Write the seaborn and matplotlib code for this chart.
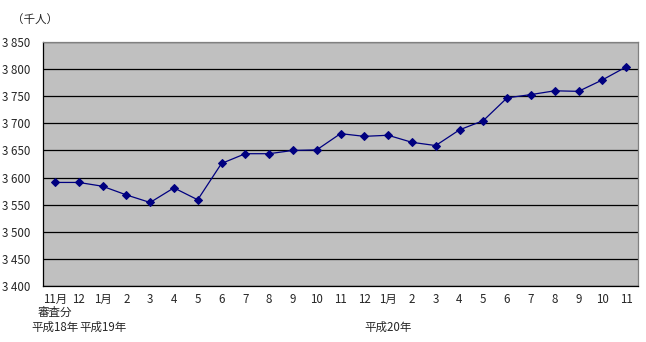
import matplotlib
matplotlib.use("Agg")
import matplotlib.pyplot as plt
import matplotlib.ticker as mticker
import seaborn as sns
import pandas as pd
import numpy as np

month_labels = ["11月", "12", "1月", "2", "3", "4", "5", "6", "7", "8", "9", "10",
                "11", "12", "1月", "2", "3", "4", "5", "6", "7", "8", "9", "10", "11"]
values = [3591, 3591, 3584, 3568, 3554, 3581, 3559, 3626, 3644, 3644, 3650, 3651,
          3681, 3676, 3678, 3665, 3659, 3688, 3705, 3747, 3753, 3760, 3759, 3780, 3804]
y_ticks = [3400, 3450, 3500, 3550, 3600, 3650, 3700, 3750, 3800, 3850]
era_labels = [(0, "平成18年"), (2, "平成19年"), (14, "平成20年")]
note_label = (0, "審査分")
unit_label = "（千人）"

sns.set_theme(style="white")
plt.rcParams['font.family'] = ['Noto Sans CJK JP', 'DejaVu Sans']

df = pd.DataFrame({"pos": np.arange(len(values)), "value": values})

W, H = 646, 342
fs = 8.3
fig = plt.figure(figsize=(W / 100, H / 100), dpi=100)
ax = fig.add_axes([43 / W, 1 - 286 / H, (638 - 43) / W, (286 - 42) / H])
ax.set_facecolor("#C0C0C0")

sns.lineplot(data=df, x="pos", y="value", ax=ax, color="#000080", linewidth=0.9,
             marker="D", markersize=4.3, markeredgecolor="#000080", sort=False, zorder=3)

ax.set_xlim(-0.5, len(values) - 0.5)
ax.set_ylim(3400, 3850)
ax.set_yticks(y_ticks)
ax.set_yticklabels([f"{v // 1000} {v % 1000:03d}" for v in y_ticks], fontsize=fs)
ax.yaxis.grid(True, color="black", linewidth=0.9)
ax.set_axisbelow(True)

ax.set_xticks(np.arange(len(values)))
ax.set_xticklabels(month_labels, fontsize=fs)
ax.set_xticks(np.arange(len(values) + 1) - 0.5, minor=True)
ax.tick_params(axis="x", which="major", length=0, pad=5)
ax.tick_params(axis="x", which="minor", direction="in", length=3, width=0.8, color="black")
ax.tick_params(axis="y", which="major", direction="out", length=3, width=0.8, color="black", pad=6)
ax.set_xlabel("")
ax.set_ylabel("")

for side in ["left", "bottom"]:
    ax.spines[side].set_color("black")
    ax.spines[side].set_linewidth(0.9)
for side in ["top", "right"]:
    ax.spines[side].set_color("#808080")
    ax.spines[side].set_linewidth(0.9)

trans = matplotlib.transforms.blended_transform_factory(ax.transData, fig.transFigure)
ax.text(note_label[0], 1 - 312 / H, note_label[1], transform=trans, ha="center", va="center", fontsize=fs)
for pos, lab in era_labels:
    ax.text(pos, 1 - 327 / H, lab, transform=trans, ha="center", va="center", fontsize=fs)
fig.text(12 / W, 1 - 20 / H, unit_label, ha="left", va="center", fontsize=fs)

fig.savefig("out.png", dpi=100)
